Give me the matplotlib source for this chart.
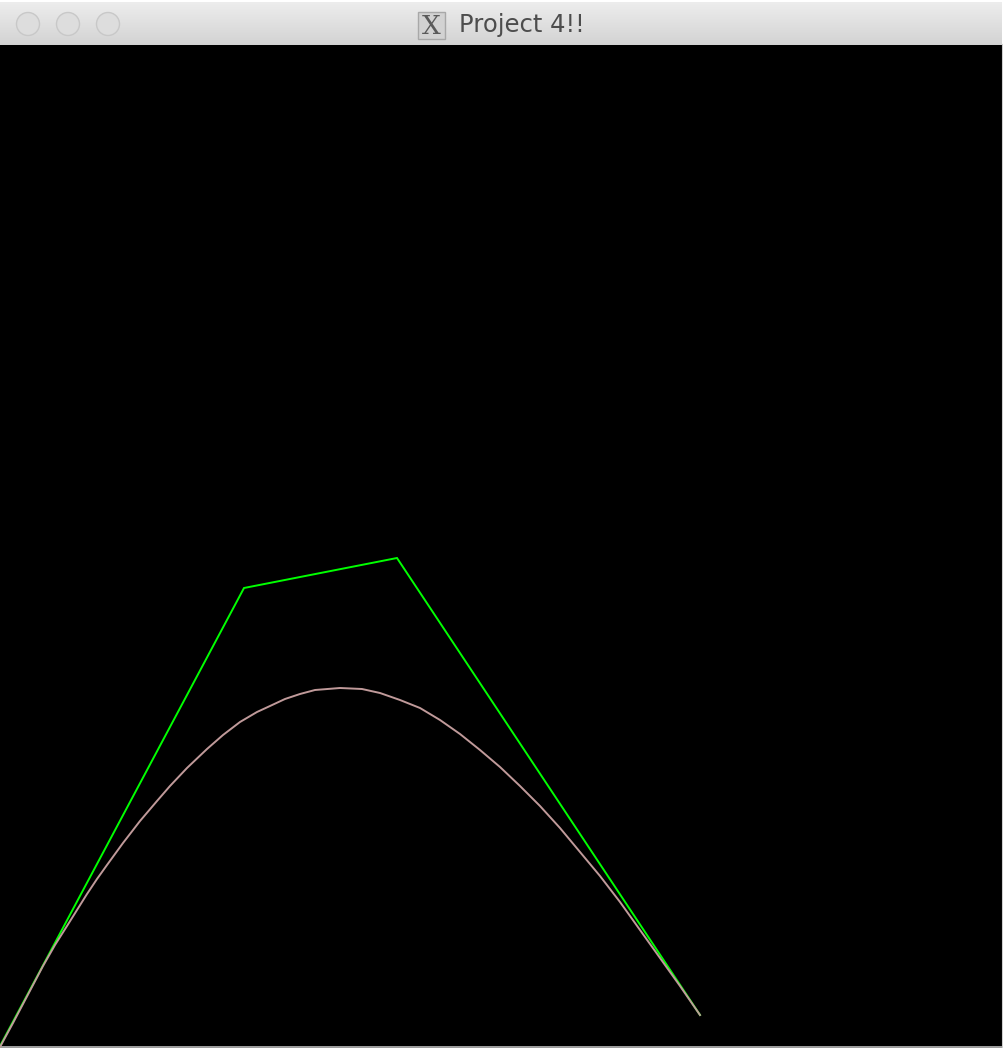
import matplotlib
matplotlib.use("Agg")
import matplotlib.pyplot as plt
import numpy as np
from matplotlib.patches import Rectangle, Circle

# Control polygon (pixel coordinates in the window)
ctrl_x = [-1, 244, 397, 700]
ctrl_y = [1048, 588, 558, 1015]

# Curve points
curve_x = [0, 13, 23, 33, 43, 55, 67, 77, 87, 97, 107, 123, 140, 157, 170, 187, 207,
           223, 240, 257, 270, 285, 300, 315, 340, 362, 380, 400, 420, 440, 460, 480,
           500, 520, 540, 560, 580, 600, 620, 640, 660, 680, 700]
curve_y = [1047, 1023, 1004, 985, 966, 945, 926, 910, 894, 879, 865, 843, 821, 801,
           786, 768, 749, 735, 722, 712, 706, 699, 694, 690, 688, 689, 693, 700, 708,
           720, 734, 750, 767, 786, 806, 828, 852, 876, 902, 930, 958, 986, 1015]

title = "Project 4!!"

W, H = 1004, 1048
fig = plt.figure(figsize=(W / 100, H / 100), dpi=100)
fig.patch.set_facecolor("white")
ax = fig.add_axes([0, 0, 1, 1])
ax.set_xlim(0, W)
ax.set_ylim(H, 0)
ax.axis("off")

# Title bar gradient
grad = np.linspace(0, 1, 100).reshape(-1, 1)
top = np.array([237, 237, 237]) / 255
bot = np.array([211, 211, 211]) / 255
img = (top + (bot - top) * grad[..., None]).reshape(100, 1, 3)
ax.imshow(img, extent=[0, 1002, 45, 2], aspect="auto", zorder=1)
ax.plot([0, 1002], [45, 45], color="#b8b8b8", lw=0.8, zorder=2)

# Window traffic lights (inactive)
for cx in [28, 68, 108]:
    ax.add_patch(Circle((cx, 24), 11.5, facecolor="#dddddd", edgecolor="#c8c8c8", lw=1.0, zorder=3))

# X icon
ax.add_patch(Rectangle((418, 12), 27, 27, facecolor="#d2d2d2", edgecolor="#a8a8a8", lw=1.0, zorder=3))
ax.text(431.5, 26, "X", ha="center", va="center", fontsize=19, color="#5a5a5a",
        family="DejaVu Serif", zorder=4)

ax.text(459, 25, title, ha="left", va="center", fontsize=17.5, color="#4d4d4d",
        family="DejaVu Sans", zorder=4)

# Black canvas
ax.add_patch(Rectangle((0, 45), 1002, 1001, facecolor="black", edgecolor="none", zorder=2))
ax.plot([0, 1002], [1047, 1047], color="#8a8a8a", lw=1.2, zorder=3)
ax.plot([1003, 1003], [45, 1048], color="#cfcfcf", lw=1.5, zorder=3)

# Control polygon and curve
ax.plot(ctrl_x, ctrl_y, color="#00ff00", lw=1.4, zorder=5, solid_joinstyle="miter")
ax.plot(curve_x, curve_y, color="#c09a9a", lw=1.4, zorder=6)

fig.savefig("out.png", dpi=100, facecolor=fig.get_facecolor())
